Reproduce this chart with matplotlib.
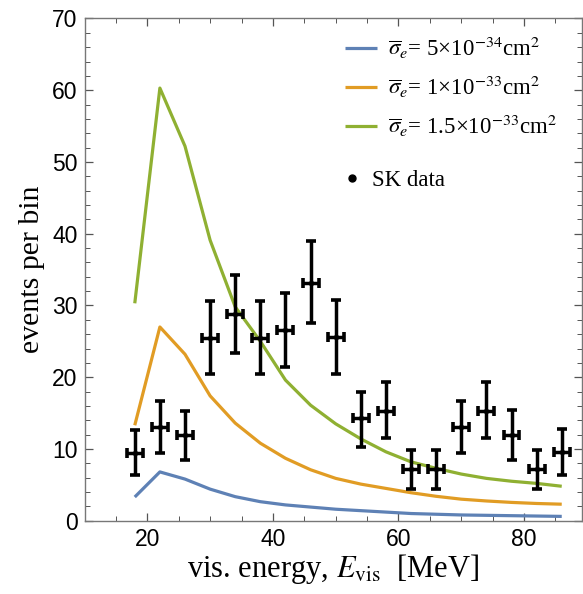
import matplotlib
matplotlib.use("Agg")
import matplotlib.pyplot as plt
from matplotlib.lines import Line2D
import numpy as np

plt.rcParams['mathtext.fontset'] = 'stix'

# ---- data ----
energy = [18, 22, 26, 30, 34, 38, 42, 46, 50, 54, 58, 62, 66, 70, 74, 78, 82, 86]

sigma_5e34 = [3.3, 6.8, 5.8, 4.4, 3.35, 2.65, 2.2, 1.9, 1.6, 1.4, 1.2, 1.0, 0.9, 0.8, 0.75, 0.7, 0.65, 0.6]
sigma_1e33 = [13.3, 27.0, 23.2, 17.4, 13.6, 10.8, 8.7, 7.1, 5.9, 5.1, 4.5, 3.9, 3.4, 3.0, 2.75, 2.55, 2.4, 2.3]
sigma_15e33 = [30.3, 60.3, 52.2, 39.1, 29.8, 25.0, 19.6, 16.1, 13.5, 11.4, 9.6, 8.2, 7.3, 6.5, 5.9, 5.5, 5.2, 4.8]

sk_counts = [9.5, 13.0, 11.9, 25.4, 28.8, 25.4, 26.6, 33.1, 25.6, 14.3, 15.3, 7.2, 7.2, 13.1, 15.3, 11.9, 7.2, 9.6]
sk_upper = [12.7, 16.7, 15.3, 30.6, 34.2, 30.6, 31.8, 39.0, 30.7, 18.0, 19.4, 9.9, 9.9, 16.7, 19.4, 15.4, 9.9, 12.8]
sk_lower = [6.4, 9.4, 8.4, 20.4, 23.4, 20.4, 21.4, 27.5, 20.4, 10.3, 11.5, 4.4, 4.4, 9.4, 11.5, 8.4, 4.4, 6.4]
bin_halfwidth = 1.27

labels = [r'$\overline{\sigma}_e$= 5×10$^{-34}$cm$^2$',
          r'$\overline{\sigma}_e$= 1×10$^{-33}$cm$^2$',
          r'$\overline{\sigma}_e$= 1.5×10$^{-33}$cm$^2$']
colors = ['#5E81B5', '#E19C24', '#8FB032']

# ---- figure ----
fig = plt.figure(figsize=(5.83, 5.94), dpi=100)
ax = fig.add_axes([0.145, 0.1234, 0.853, 0.8455])

lines = []
for vals, lab, c in zip([sigma_5e34, sigma_1e33, sigma_15e33], labels, colors):
    l, = ax.plot(energy, vals, color=c, lw=2.3, label=lab, solid_capstyle='butt')
    lines.append(l)

y = np.array(sk_counts)
yerr = [y - np.array(sk_lower), np.array(sk_upper) - y]
ax.errorbar(energy, y, yerr=yerr, xerr=bin_halfwidth, fmt='o', ms=3,
            color='black', ecolor='black', elinewidth=2.5, capsize=3.3,
            capthick=2.6, zorder=5)

ax.set_xlim(10, 89.2)
ax.set_ylim(0, 70)
ax.set_xticks([20, 40, 60, 80])
ax.set_xticks(np.arange(10, 90, 5), minor=True)
ax.set_yticks(np.arange(0, 71, 10))
ax.set_yticks(np.arange(0, 71, 2), minor=True)

for s in ax.spines.values():
    s.set_color('#777777')
    s.set_linewidth(1.0)

ax.tick_params(which='both', direction='in', top=True, right=True, color='#555555')
ax.tick_params(which='major', length=6, width=0.9, labelsize=16.5, pad=5)
ax.tick_params(which='minor', length=3.5, width=0.7)
for t in ax.get_xticklabels() + ax.get_yticklabels():
    t.set_fontfamily('Liberation Sans')

ax.set_xlabel(r'vis. energy, $E_{\rm vis}$  [MeV]', fontsize=22, family='Liberation Serif', labelpad=1)
ax.set_ylabel('events per bin', fontsize=21.5, family='Liberation Serif', labelpad=5)

leg1 = ax.legend(handles=lines, loc='upper left', frameon=False,
                 prop={'family': 'Liberation Serif', 'size': 16.5},
                 handlelength=1.4, handletextpad=0.48, labelspacing=0.55,
                 bbox_to_anchor=(0.524, 0.967), borderaxespad=0, borderpad=0)
ax.add_artist(leg1)
sk_handle = Line2D([], [], marker='o', ls='none', color='black', ms=5)
ax.legend(handles=[sk_handle], labels=['SK data'], loc='center left', frameon=False,
          prop={'family': 'Liberation Serif', 'size': 16.5},
          bbox_to_anchor=(0.514, 0.678), handletextpad=0.37, handlelength=1.0,
          borderaxespad=0, borderpad=0)

fig.savefig('out.png', dpi=100)
